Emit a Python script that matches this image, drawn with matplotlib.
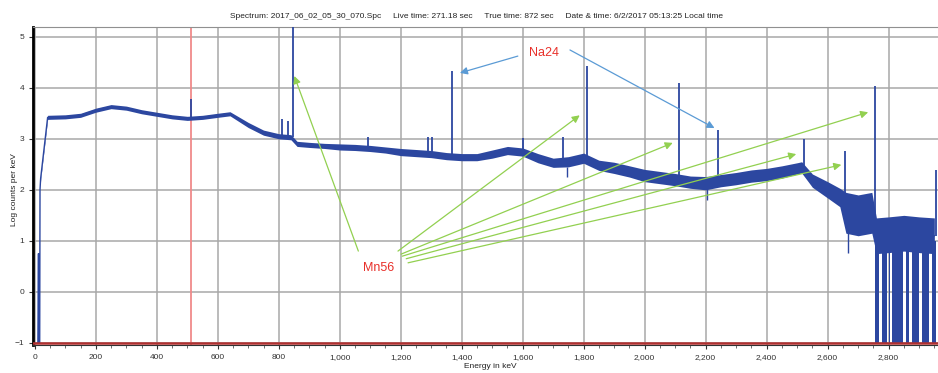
import matplotlib.pyplot as plt
import matplotlib.ticker as mticker

plt.rcParams['font.family'] = ['Liberation Sans', 'DejaVu Sans']

# continuum: energy (keV), band centre and half-width (log counts per keV)
energy = [10, 12, 13, 16, 17, 19, 42, 100, 150, 200, 250, 300, 350, 400, 450,
          500, 550, 600, 640, 700, 750, 800, 840, 860, 900, 950, 1000, 1050,
          1100, 1150, 1200, 1250, 1300, 1350, 1400, 1450, 1500, 1550, 1600,
          1650, 1700, 1750, 1800, 1850, 1900, 1950, 2000, 2050, 2100, 2150,
          2200, 2250, 2300, 2350, 2400, 2450, 2500, 2515, 2550, 2600, 2640,
          2660, 2700, 2745, 2760, 2800, 2850, 2900, 2950]
level = [-1.0, 0.75, -1.0, -1.0, 2.0, 2.22, 3.42, 3.43, 3.46, 3.56, 3.63, 3.60,
         3.53, 3.48, 3.43, 3.40, 3.42, 3.46, 3.49, 3.27, 3.12, 3.05, 3.03, 2.90,
         2.88, 2.86, 2.84, 2.83, 2.81, 2.78, 2.74, 2.72, 2.70, 2.66, 2.64, 2.64,
         2.70, 2.77, 2.74, 2.62, 2.53, 2.55, 2.62, 2.48, 2.43, 2.36, 2.28, 2.24,
         2.20, 2.15, 2.13, 2.18, 2.22, 2.27, 2.30, 2.35, 2.42, 2.44, 2.18, 2.00,
         1.85, 1.55, 1.50, 1.55, 1.10, 1.12, 1.15, 1.12, 1.10]
spread = [0.0, 0.0, 0.0, 0.0, 0.0, 0.03, 0.04, 0.04, 0.04, 0.04, 0.04, 0.04,
          0.04, 0.04, 0.04, 0.04, 0.04, 0.04, 0.04, 0.05, 0.05, 0.05, 0.05, 0.05,
          0.05, 0.05, 0.06, 0.06, 0.06, 0.06, 0.07, 0.07, 0.07, 0.07, 0.07, 0.07,
          0.08, 0.08, 0.08, 0.09, 0.09, 0.10, 0.10, 0.10, 0.11, 0.11, 0.12, 0.12,
          0.12, 0.12, 0.13, 0.12, 0.12, 0.12, 0.12, 0.12, 0.11, 0.11, 0.13, 0.16,
          0.18, 0.40, 0.40, 0.40, 0.35, 0.35, 0.35, 0.35, 0.35]

# photopeaks: energy, base, top
peak_e = [511, 812, 831, 847, 1093, 1291, 1302, 1368, 1601, 1732, 1811, 2113,
          2239, 2523, 2657, 2754, 2956]
peak_base = [3.40, 3.05, 3.04, 3.03, 2.82, 2.71, 2.70, 2.66, 2.75, 2.53, 2.62,
             2.20, 2.17, 2.44, 1.85, 1.55, 1.10]
peak_top = [3.78, 3.38, 3.35, 5.25, 3.03, 3.03, 3.03, 4.32, 3.01, 3.03, 4.42,
            4.09, 3.17, 3.00, 2.76, 4.03, 2.39]

# downward spikes
dip_e = [1745, 2203, 2666]
dip_base = [2.45, 2.05, 1.30]
dip_low = [2.25, 1.80, 0.76]

# empty channels above the 2754 line (ranges dropping to -1)
drop_ranges = [(2756, 2769), (2779, 2796), (2800, 2804), (2812, 2846),
               (2857, 2867), (2876, 2900), (2910, 2933), (2941, 2955)]

x_ticks = list(range(0, 2801, 200))
y_ticks = [-1, 0, 1, 2, 3, 4, 5]

# annotation arrows: (text anchor, tip)
mn56_arrows = [((1061, 0.80), (851, 4.23)),
               ((1191, 0.80), (1787, 3.46)),
               ((1201, 0.74), (2092, 2.92)),
               ((1205, 0.70), (2733, 3.52)),
               ((1218, 0.65), (2497, 2.70)),
               ((1224, 0.57), (2645, 2.49))]
na24_arrows = [((1584, 4.62), (1394, 4.29)),
               ((1755, 4.74), (2229, 3.21))]

blue = '#2c47a0'
fig = plt.figure(figsize=(9.38, 3.73), dpi=100)
ax = fig.add_axes([33 / 938, 1 - 345 / 373, (938 - 33) / 938, (345 - 27) / 373])

lower = [l - s for l, s in zip(level, spread)]
upper = [l + s for l, s in zip(level, spread)]
ax.fill_between(energy, lower, upper, color=blue, lw=0, zorder=3)
ax.plot(energy, level, color=blue, lw=1.0, zorder=3)
ax.vlines(peak_e, peak_base, peak_top, color=blue, lw=1.3, zorder=3)
ax.vlines(dip_e, dip_low, dip_base, color=blue, lw=1.0, zorder=3)
for a, b in drop_ranges:
    ax.fill_between([a, b], -1, 1.0, color=blue, lw=0, zorder=3)

ax.axvline(511, color='#f08a8a', lw=1.3, zorder=2)
ax.axhline(-1, color='#b03030', lw=1.8, zorder=4)

ax.set_xlim(-6, 2962)
ax.set_ylim(-1.04, 5.19)
ax.set_xticks(x_ticks)
ax.set_yticks(y_ticks)
ax.xaxis.set_minor_locator(mticker.MultipleLocator(50))
ax.xaxis.set_major_formatter(mticker.StrMethodFormatter('{x:,.0f}'))
ax.grid(True, color='#a8a8a8', lw=1.1, zorder=1)
ax.set_axisbelow(True)
ax.tick_params(labelsize=6, colors='#333333', length=3, width=0.8)
ax.tick_params(which='minor', length=2, width=0.6, colors='#555555')
ax.spines['left'].set_linewidth(2)
ax.spines['left'].set_color('black')
ax.spines['top'].set_color('#909090')
ax.spines['right'].set_visible(False)
ax.spines['bottom'].set_color('#333333')

for (sx, sy), (tx, ty) in mn56_arrows:
    ax.annotate('', xy=(tx, ty), xytext=(sx, sy),
                arrowprops=dict(arrowstyle='-|>', color='#92d050', lw=0.9,
                                mutation_scale=11, shrinkA=0, shrinkB=0), zorder=5)
for (sx, sy), (tx, ty) in na24_arrows:
    ax.annotate('', xy=(tx, ty), xytext=(sx, sy),
                arrowprops=dict(arrowstyle='-|>', color='#5b9bd5', lw=0.9,
                                mutation_scale=11, shrinkA=0, shrinkB=0), zorder=5)
ax.text(1670, 4.68, 'Na24', color='#e8302a', fontsize=9, ha='center', va='center', zorder=6)
ax.text(1127, 0.47, 'Mn56', color='#e8302a', fontsize=9, ha='center', va='center', zorder=6)

fig.text(476 / 938, 1 - 16 / 373,
         'Spectrum: 2017_06_02_05_30_070.Spc     Live time: 271.18 sec     '
         'True time: 872 sec     Date & time: 6/2/2017 05:13:25 Local time',
         ha='center', va='center', fontsize=6, color='#222222')
fig.text(14 / 938, 1 - 190 / 373, 'Log counts per keV', rotation=90,
         ha='center', va='center', fontsize=6, color='#222222')
fig.text(490 / 938, 1 - 367 / 373, 'Energy in keV', ha='center', va='center',
         fontsize=6, color='#222222')

fig.savefig('out.png', dpi=100)
